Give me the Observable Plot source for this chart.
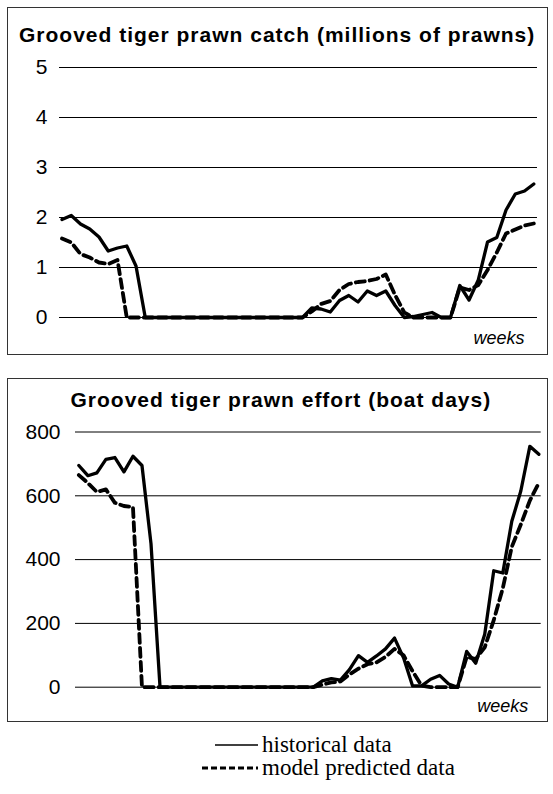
<!DOCTYPE html>
<html>
<head>
<meta charset="utf-8">
<script src="https://cdn.jsdelivr.net/npm/d3@7"></script>
<script src="https://cdn.jsdelivr.net/npm/@observablehq/plot@0.6"></script>
<style>
  html, body { margin: 0; padding: 0; background: #fff; }
  #page { position: relative; width: 553px; height: 794px; overflow: hidden; font-family: "Liberation Sans", Arial, sans-serif; }
  .box { position: absolute; border: 1.5px solid #333; box-sizing: border-box; }
  .title { position: absolute; font-weight: bold; font-size: 21px; letter-spacing: 1px; white-space: nowrap; color: #000; }
  .plot { position: absolute; left: 0; }
  #legend { position: absolute; font-family: "Liberation Serif", "Times New Roman", serif; font-size: 23px; line-height: 21px; color: #000; }
  #legend div { position: absolute; white-space: nowrap; height: 21px; }
</style>
</head>
<body>
<div id="page">
  <div class="box" style="left:7px; top:7px; width:541px; height:348px;"></div>
  <div class="box" style="left:7px; top:378px; width:541px; height:344px;"></div>
  <div class="title" id="t1" style="top:23px;"></div>
  <div class="title" id="t2" style="top:388px;"></div>
  <div class="plot" id="p1" style="top:0px;"></div>
  <div class="plot" id="p2" style="top:370px;"></div>
  <div id="legend"></div>
</div>
<script>
// ---- Data ----
const titleCatch = "Grooved tiger prawn catch (millions of prawns)";
const titleEffort = "Grooved tiger prawn effort (boat days)";
const xLabel = "weeks";
const legendLabels = ["historical data", "model predicted data"];

const weeks = Array.from({length: 52}, (_, i) => i + 1);

const catchTicks = [0, 1, 2, 3, 4, 5];
const catchHistorical = [
  1.96, 2.04, 1.87, 1.77, 1.61, 1.33, 1.39, 1.43, 1.03, 0,
  0, 0, 0, 0, 0, 0, 0, 0, 0, 0,
  0, 0, 0, 0, 0, 0, 0, 0.19, 0.17, 0.11,
  0.34, 0.44, 0.31, 0.53, 0.44, 0.53, 0.24, 0, 0.02, 0.06,
  0.10, 0, 0, 0.64, 0.35, 0.75, 1.51, 1.60, 2.15, 2.47,
  2.53, 2.67
];
const catchModel = [
  1.58, 1.50, 1.27, 1.20, 1.10, 1.07, 1.15, 0, 0, 0,
  0, 0, 0, 0, 0, 0, 0, 0, 0, 0,
  0, 0, 0, 0, 0, 0, 0, 0.12, 0.27, 0.33,
  0.55, 0.67, 0.71, 0.73, 0.77, 0.86, 0.45, 0.10, 0, 0,
  0, 0, 0, 0.60, 0.55, 0.65, 0.95, 1.30, 1.68, 1.76,
  1.84, 1.88
];

const effortTicks = [0, 200, 400, 600, 800];
const effortHistorical = [
  695, 663, 672, 714, 720, 675, 724, 695, 450, 0,
  0, 0, 0, 0, 0, 0, 0, 0, 0, 0,
  0, 0, 0, 0, 0, 0, 0, 20, 27, 22,
  55, 99, 78, 98, 120, 154, 92, 4, 4, 25,
  37, 10, 0, 112, 75, 166, 365, 358, 520, 615,
  755, 730
];
const effortModel = [
  665, 640, 612, 620, 578, 568, 565, 0, 0, 0,
  0, 0, 0, 0, 0, 0, 0, 0, 0, 0,
  0, 0, 0, 0, 0, 0, 0, 8, 15, 18,
  40, 58, 72, 78, 95, 120, 100, 50, 5, 0,
  0, 0, 0, 95, 88, 125, 210, 310, 440, 510,
  585, 640
];

// ---- Drawing ----
function panel({hist, model, ticks, yMax, mTop, mBottom, mLeft, mRight, xDomain, pad, weeksDy}) {
  const rows = weeks.map((w, i) => ({w, h: hist[i], m: model[i]}));
  return Plot.plot({
    width: 553,
    height: 360,
    marginTop: mTop,
    marginBottom: mBottom,
    marginLeft: mLeft,
    marginRight: mRight,
    x: {domain: xDomain, axis: null},
    y: {domain: [0, yMax], axis: null},
    style: {background: "transparent", fontFamily: "Liberation Sans, Arial, sans-serif", color: "#000"},
    marks: [
      Plot.ruleY(ticks, {stroke: "#000", strokeWidth: 1}),
      Plot.axisY(ticks, {tickSize: 0, tickPadding: pad, fontSize: 21, label: null, tickFormat: d => String(d)}),
      Plot.lineY(rows, {x: "w", y: "m", stroke: "#000", strokeWidth: 3.8, strokeDasharray: "9,5", curve: "linear"}),
      Plot.lineY(rows, {x: "w", y: "h", stroke: "#000", strokeWidth: 3.3, curve: "linear"}),
      Plot.text([xLabel], {frameAnchor: "bottom-right", dx: -13, dy: weeksDy, textAnchor: "end", lineAnchor: "middle", fontSize: 18, fontStyle: "italic", fill: "#000"})
    ]
  });
}

document.getElementById("p1").append(panel({
  hist: catchHistorical, model: catchModel, ticks: catchTicks, yMax: 5,
  mTop: 67, mBottom: 43, mLeft: 59, mRight: 16, xDomain: [0.73, 52.4], pad: 12, weeksDy: 21
}));
document.getElementById("p2").append(panel({
  hist: effortHistorical, model: effortModel, ticks: effortTicks, yMax: 800,
  mTop: 61.5, mBottom: 43.3, mLeft: 75, mRight: 12.3, xDomain: [0.63, 52.26], pad: 15, weeksDy: 19
}));

// Titles
const t1 = document.getElementById("t1");
t1.textContent = titleCatch;
const t2 = document.getElementById("t2");
t2.textContent = titleEffort;
t1.style.left = (277 - t1.offsetWidth / 2) + "px";
t2.style.left = (281 - t2.offsetWidth / 2) + "px";

// Legend
const legend = document.getElementById("legend");
legend.style.left = "0px";
legend.style.top = "0px";
const swatches = [
  {x1: 215, y: 745, dash: null},
  {x1: 202, y: 768, dash: "6,3"}
];
legendLabels.forEach((lab, i) => {
  const s = swatches[i];
  const svgNS = "http://www.w3.org/2000/svg";
  const svg = document.createElementNS(svgNS, "svg");
  svg.setAttribute("width", 553);
  svg.setAttribute("height", 794);
  svg.style.position = "absolute";
  svg.style.left = "0px";
  svg.style.top = "0px";
  const ln = document.createElementNS(svgNS, "line");
  ln.setAttribute("x1", s.x1); ln.setAttribute("x2", 258);
  ln.setAttribute("y1", s.y); ln.setAttribute("y2", s.y);
  ln.setAttribute("stroke", "#000");
  ln.setAttribute("stroke-width", s.dash ? 3 : 1.5);
  if (s.dash) ln.setAttribute("stroke-dasharray", s.dash);
  svg.appendChild(ln);
  document.getElementById("page").appendChild(svg);
  const d = document.createElement("div");
  d.textContent = lab;
  d.style.left = "262px";
  d.style.top = (s.y - 11) + "px";
  legend.appendChild(d);
});
</script>
</body>
</html>
